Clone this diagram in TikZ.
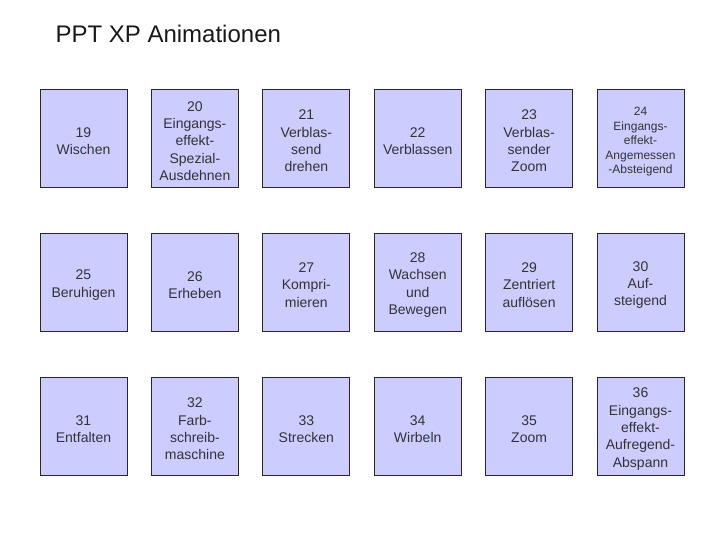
\documentclass[tikz,border=0pt]{standalone}
\usepackage{fontspec}
\setmainfont{Liberation Sans}
\usetikzlibrary{positioning}

\definecolor{boxfill}{RGB}{204,204,255}
\definecolor{boxline}{RGB}{40,40,40}

% extra room above the first line, so the text sits a little low as in PowerPoint
\newcommand\animlift{\rule{0pt}{16pt}}

\begin{document}
\begin{tikzpicture}[x=1pt, y=-1pt,
    anim/.style={draw=boxline, fill=boxfill, line width=0.8pt,
        minimum width=87pt, minimum height=98pt, inner sep=0pt,
        align=center, text=black!80,
        font=\fontsize{14}{17.3}\selectfont},
    animsmall/.style={anim, font=\fontsize{12}{14.5}\selectfont}]
    % --- Page frame ---
    \useasboundingbox (0,0) rectangle (720,540);

    % --- Grid ---
    % column pitch and row pitch of the boxes
    \def\dx{111.4}
    \def\dy{144}

    % --- Title ---
    \node[anchor=west, text=black!90, font=\fontsize{24}{28}\selectfont] (title) at (52,34) {PPT XP Animationen};

    % --- Row 1 ---
    \node[anim] (b19) at (83.5,138) {\animlift 19\\Wischen};
    \node[anim] (b20) at (83.5+\dx,138) {\animlift 20\\Eingangs-\\effekt-\\Spezial-\\Ausdehnen};
    \node[anim] (b21) at (83.5+2*\dx,138) {\animlift 21\\Verblas-\\send\\drehen};
    \node[anim] (b22) at (83.5+3*\dx,138) {\animlift 22\\Verblassen};
    \node[anim] (b23) at (83.5+4*\dx,138) {\animlift 23\\Verblas-\\sender\\Zoom};
    \node[animsmall] (b24) at (83.5+5*\dx,138) {\animlift 24\\Eingangs-\\effekt-\\Angemessen\\-Absteigend};

    % --- Row 2 ---
    \node[anim] (b25) at (83.5,138+\dy) {\animlift 25\\Beruhigen};
    \node[anim] (b26) at (83.5+\dx,138+\dy) {\animlift 26\\Erheben};
    \node[anim] (b27) at (83.5+2*\dx,138+\dy) {\animlift 27\\Kompri-\\mieren};
    \node[anim] (b28) at (83.5+3*\dx,138+\dy) {\animlift 28\\Wachsen\\und\\Bewegen};
    \node[anim] (b29) at (83.5+4*\dx,138+\dy) {\animlift 29\\Zentriert\\auflösen};
    \node[anim] (b30) at (83.5+5*\dx,138+\dy) {\animlift 30\\Auf-\\steigend};

    % --- Row 3 ---
    \node[anim] (b31) at (83.5,138+2*\dy) {\animlift 31\\Entfalten};
    \node[anim] (b32) at (83.5+\dx,138+2*\dy) {\animlift 32\\Farb-\\schreib-\\maschine};
    \node[anim] (b33) at (83.5+2*\dx,138+2*\dy) {\animlift 33\\Strecken};
    \node[anim] (b34) at (83.5+3*\dx,138+2*\dy) {\animlift 34\\Wirbeln};
    \node[anim] (b35) at (83.5+4*\dx,138+2*\dy) {\animlift 35\\Zoom};
    \node[anim] (b36) at (83.5+5*\dx,138+2*\dy) {\animlift 36\\Eingangs-\\effekt-\\Aufregend-\\Abspann};

\end{tikzpicture}
\end{document}
